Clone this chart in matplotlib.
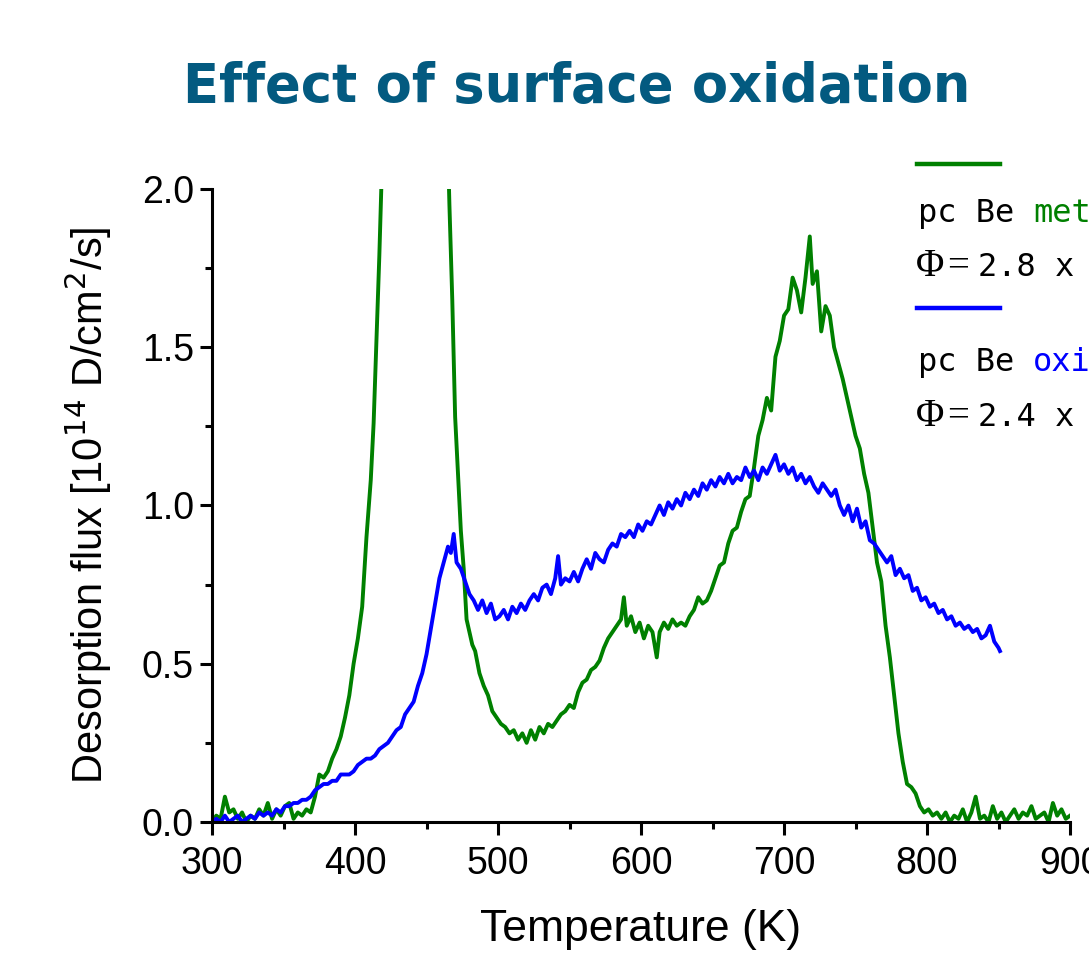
import matplotlib
matplotlib.use("Agg")
import matplotlib.pyplot as plt
from matplotlib.ticker import MultipleLocator

# metallic sample (green)
t_met = [300, 303, 306, 309, 312, 315, 318, 321, 324, 327, 330, 333, 336, 339, 342, 345,
         348, 351, 354, 357, 360, 363, 366, 369, 372, 375, 378, 381, 384, 387, 390, 393,
         396, 399, 402, 405, 408, 411, 413, 415, 417, 419, 421, 425, 440, 455, 462, 464,
         466, 468, 470, 472, 474, 476, 478, 480, 482, 484, 487, 490, 493, 496, 499, 502,
         505, 508, 511, 514, 517, 520, 523, 526, 529, 532, 535, 538, 541, 544, 547, 550,
         553, 556, 559, 562, 565, 568, 571, 574, 577, 580, 583, 586, 588, 590, 593, 596,
         599, 602, 605, 608, 611, 613, 616, 619, 622, 625, 628, 631, 634, 637, 640, 643,
         646, 649, 652, 655, 658, 661, 664, 667, 670, 673, 676, 679, 682, 685, 688, 691,
         694, 697, 700, 703, 706, 709, 712, 715, 718, 720, 723, 726, 729, 732, 735, 738,
         741, 744, 747, 750, 753, 756, 759, 762, 765, 768, 771, 774, 777, 780, 783, 786,
         789, 792, 795, 798, 801, 804, 807, 810, 813, 816, 819, 822, 825, 828, 831, 834,
         837, 840, 843, 846, 849, 852, 855, 858, 861, 864, 867, 870, 873, 876, 879, 882,
         885, 888, 891, 894, 897, 900]
flux_met = [0.00, 0.02, 0.01, 0.08, 0.03, 0.04, 0.01, 0.03, 0.00, 0.02, 0.01, 0.04, 0.02, 0.06, 0.01, 0.04,
            0.02, 0.05, 0.06, 0.01, 0.03, 0.02, 0.04, 0.03, 0.08, 0.15, 0.14, 0.16, 0.20, 0.23, 0.27, 0.33,
            0.40, 0.50, 0.58, 0.68, 0.90, 1.08, 1.26, 1.53, 1.79, 2.10, 2.60, 3.50, 4.20, 3.60, 2.80, 2.30,
            1.95, 1.65, 1.28, 1.10, 0.92, 0.80, 0.64, 0.60, 0.56, 0.54, 0.47, 0.43, 0.40, 0.35, 0.33, 0.31,
            0.30, 0.28, 0.29, 0.26, 0.28, 0.25, 0.29, 0.26, 0.30, 0.28, 0.31, 0.30, 0.32, 0.34, 0.35, 0.37,
            0.36, 0.41, 0.44, 0.45, 0.48, 0.49, 0.51, 0.55, 0.58, 0.60, 0.62, 0.64, 0.71, 0.62, 0.65, 0.60,
            0.63, 0.58, 0.62, 0.60, 0.52, 0.60, 0.63, 0.61, 0.64, 0.62, 0.63, 0.62, 0.65, 0.67, 0.71, 0.69,
            0.70, 0.73, 0.77, 0.81, 0.82, 0.88, 0.92, 0.93, 0.98, 1.02, 1.03, 1.12, 1.22, 1.27, 1.34, 1.30,
            1.47, 1.52, 1.60, 1.62, 1.72, 1.68, 1.61, 1.72, 1.85, 1.70, 1.74, 1.55, 1.63, 1.60, 1.50, 1.45,
            1.40, 1.34, 1.28, 1.22, 1.18, 1.10, 1.04, 0.93, 0.82, 0.76, 0.62, 0.52, 0.40, 0.28, 0.19, 0.12,
            0.11, 0.09, 0.05, 0.03, 0.04, 0.02, 0.03, 0.01, 0.03, 0.00, 0.02, 0.01, 0.04, 0.00, 0.03, 0.08,
            0.01, 0.02, 0.00, 0.05, 0.01, 0.03, 0.00, 0.02, 0.04, 0.01, 0.03, 0.02, 0.05, 0.01, 0.02, 0.03,
            0.00, 0.06, 0.02, 0.04, 0.01, 0.02]

# oxidized sample (blue)
t_oxi = [300, 303, 306, 309, 312, 315, 318, 321, 324, 327, 330, 333, 336, 339, 342, 345,
         348, 351, 354, 357, 360, 363, 366, 369, 372, 375, 378, 381, 384, 387, 390, 393,
         396, 399, 402, 405, 408, 411, 414, 417, 420, 423, 426, 429, 432, 435, 438, 441,
         444, 447, 450, 453, 456, 459, 462, 465, 467, 469, 471, 474, 477, 480, 483, 486,
         489, 492, 495, 498, 501, 504, 507, 510, 513, 516, 519, 522, 525, 528, 531, 534,
         537, 540, 542, 544, 547, 550, 553, 556, 559, 562, 565, 568, 571, 574, 577, 580,
         583, 586, 589, 592, 595, 598, 601, 604, 607, 610, 613, 616, 619, 622, 625, 628,
         631, 634, 637, 640, 643, 646, 649, 652, 655, 658, 661, 664, 667, 670, 673, 676,
         679, 682, 685, 688, 691, 694, 697, 700, 703, 706, 709, 712, 715, 718, 721, 724,
         727, 730, 733, 736, 739, 742, 745, 748, 751, 754, 757, 760, 763, 766, 769, 772,
         775, 778, 781, 784, 787, 790, 793, 796, 799, 802, 805, 808, 811, 814, 817, 820,
         823, 826, 829, 832, 835, 838, 841, 844, 847, 850, 851]
flux_oxi = [0.00, 0.01, 0.00, 0.02, 0.00, 0.01, 0.02, 0.00, 0.01, 0.02, 0.01, 0.03, 0.02, 0.03, 0.02, 0.04,
            0.03, 0.05, 0.05, 0.06, 0.06, 0.07, 0.07, 0.08, 0.10, 0.11, 0.12, 0.12, 0.13, 0.13, 0.15, 0.15,
            0.15, 0.16, 0.18, 0.19, 0.20, 0.20, 0.21, 0.23, 0.24, 0.25, 0.27, 0.29, 0.30, 0.34, 0.36, 0.38,
            0.43, 0.47, 0.53, 0.61, 0.69, 0.77, 0.82, 0.87, 0.85, 0.91, 0.82, 0.80, 0.76, 0.72, 0.70, 0.67,
            0.70, 0.66, 0.69, 0.64, 0.65, 0.67, 0.64, 0.68, 0.66, 0.69, 0.67, 0.70, 0.72, 0.70, 0.74, 0.75,
            0.72, 0.77, 0.84, 0.75, 0.77, 0.76, 0.79, 0.76, 0.80, 0.83, 0.80, 0.85, 0.83, 0.82, 0.86, 0.88,
            0.87, 0.91, 0.90, 0.92, 0.90, 0.94, 0.92, 0.95, 0.94, 0.97, 1.00, 0.97, 1.01, 0.99, 1.02, 1.00,
            1.04, 1.02, 1.05, 1.03, 1.07, 1.05, 1.08, 1.06, 1.09, 1.07, 1.10, 1.07, 1.09, 1.08, 1.12, 1.09,
            1.11, 1.08, 1.12, 1.10, 1.13, 1.16, 1.11, 1.13, 1.10, 1.12, 1.08, 1.10, 1.07, 1.09, 1.06, 1.04,
            1.07, 1.05, 1.03, 1.05, 1.00, 0.97, 1.00, 0.95, 0.99, 0.93, 0.95, 0.89, 0.88, 0.86, 0.84, 0.82,
            0.84, 0.78, 0.80, 0.77, 0.78, 0.73, 0.74, 0.70, 0.71, 0.68, 0.69, 0.66, 0.67, 0.64, 0.65, 0.62,
            0.63, 0.61, 0.62, 0.60, 0.61, 0.58, 0.59, 0.62, 0.57, 0.55, 0.54]

# the notes are cut by the right border in the original, only this much shows
labels_sample = ["met", "oxi"]
labels_fluence = ["2.8 x", "2.4 x"]
colors = ["#008000", "#0000ff"]


def main():
    fig = plt.figure(figsize=(10.89, 9.55), dpi=100)
    ax = fig.add_axes([0.1947, 0.1393, 0.7879, 0.6628])

    ax.plot(t_met, flux_met, color=colors[0], lw=2.8)
    ax.plot(t_oxi, flux_oxi, color=colors[1], lw=2.8)

    ax.set_xlim(300, 900)
    ax.set_ylim(0, 2.0)
    ax.xaxis.set_major_locator(MultipleLocator(100))
    ax.xaxis.set_minor_locator(MultipleLocator(50))
    ax.yaxis.set_major_locator(MultipleLocator(0.5))
    ax.yaxis.set_minor_locator(MultipleLocator(0.25))
    ax.yaxis.set_major_formatter(lambda v, p: f"{v:.1f}")

    for s in ["top", "right"]:
        ax.spines[s].set_visible(False)
    for s in ["left", "bottom"]:
        ax.spines[s].set_linewidth(2.2)

    ax.tick_params(which="major", direction="out", length=9, width=2.2,
                   labelsize=27, pad=4)
    ax.tick_params(axis="x", which="major", pad=8)
    ax.tick_params(which="minor", direction="out", length=5, width=2.2)
    for lab in ax.get_xticklabels() + ax.get_yticklabels():
        lab.set_fontfamily("Liberation Sans")

    ax.set_xlabel("Temperature (K)", fontsize=32, family="Liberation Sans", labelpad=20)
    ax.set_ylabel(r"Desorption flux [10$^{14}$ D/cm$^{2}$/s]", fontsize=30,
                  family="Liberation Sans", labelpad=20)

    fig.text(0.530, 0.893, "Effect of surface oxidation", ha="center", va="baseline",
             fontsize=38, fontweight="bold", family="DejaVu Sans", color="#035a80")

    # legend-like notes at the right edge
    plt.rcParams["mathtext.fontset"] = "dejavusans"
    line_y = [0.8283, 0.6775]
    name_y = [0.7680, 0.6110]
    phi_y = [0.7105, 0.5535]
    for i in range(2):
        fig.add_artist(plt.Line2D([0.842, 0.918], [line_y[i], line_y[i]], color=colors[i],
                                  lw=3.2, transform=fig.transFigure))
        fig.text(0.843, name_y[i], "pc Be ", fontsize=23, family="DejaVu Sans Mono",
                 va="baseline")
        fig.text(0.843 + 0.1058, name_y[i], labels_sample[i], fontsize=23,
                 family="DejaVu Sans Mono", color=colors[i], va="baseline")
        fig.text(0.841, phi_y[i], "Φ", fontsize=28, family="Liberation Serif",
                 va="baseline")
        fig.text(0.870, phi_y[i], "=", fontsize=28, family="Liberation Serif",
                 va="baseline")
        fig.text(0.898, phi_y[i], labels_fluence[i], fontsize=23,
                 family="DejaVu Sans Mono", va="baseline")

    fig.savefig("out.png", dpi=100)
    plt.close(fig)


if __name__ == "__main__":
    main()
